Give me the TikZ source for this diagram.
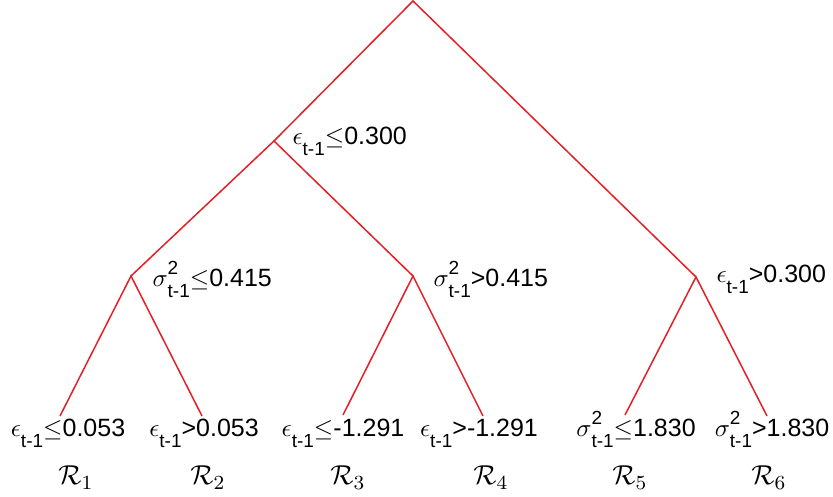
\documentclass[tikz,border=0pt]{standalone}
\usepackage{amsmath,amssymb}
\usepackage{fontspec}
\setmainfont{Liberation Sans}
\usetikzlibrary{positioning}
\definecolor{cBranch}{RGB}{226,32,38}
\newcommand{\lowsub}[1]{\raisebox{-0.44em}{\fontsize{7.6}{9}\selectfont #1}}
\newcommand{\highsup}[1]{\rlap{\raisebox{0.48em}{\fontsize{7.6}{9}\selectfont #1}}}
\newcommand{\epst}{$\epsilon$\lowsub{t-1}}
\newcommand{\sigt}{$\sigma$\highsup{2}\lowsub{t-1}}
\tikzset{
  branch/.style={draw=cBranch, line width=0.6pt},
  cond/.style={font=\fontsize{10}{12}\selectfont, inner sep=0pt, anchor=base},
  region/.style={font=\fontsize{11}{13}\selectfont, inner sep=0pt, anchor=base},
}

\begin{document}
\begin{tikzpicture}[x=0.4pt, y=-0.4pt]
\useasboundingbox (0,0) rectangle (833,497);

% ---- split points ----
\coordinate (root) at (413,1);
\coordinate (eps) at (274,141);
\coordinate (sigL) at (131,276);
\coordinate (sigR) at (413,276);
\coordinate (epsR) at (696,277);

% ---- leaf ends ----
\coordinate (l1) at (60,416);
\coordinate (l2) at (202,416);
\coordinate (l3) at (343,415);
\coordinate (l4) at (483,416);
\coordinate (l5) at (625,415);
\coordinate (l6) at (767,416);

% ---- branches ----
\draw[branch] (eps) -- (root) -- (epsR);
\draw[branch] (sigL) -- (eps) -- (sigR);
\draw[branch] (l1) -- (sigL) -- (l2);
\draw[branch] (l3) -- (sigR) -- (l4);
\draw[branch] (l5) -- (epsR) -- (l6);

% ---- split labels ----
\node[cond, anchor=base west] (cEps) at (292,145) {\epst$\leq$0.300};
\node[cond, anchor=base west] (cSigL) at (152,287) {\sigt$\leq$0.415};
\node[cond, anchor=base west] (cSigR) at (433,287) {\sigt>0.415};
\node[cond, anchor=base west] (cEpsR) at (716,283) {\epst>0.300};

% ---- leaf labels ----
\node[cond] (t1) at (68,437) {\epst$\leq$0.053};
\node[cond] (t2) at (204,437) {\epst>0.053};
\node[cond] (t3) at (343,437) {\epst$\leq$-1.291};
\node[cond] (t4) at (479,437) {\epst>-1.291};
\node[cond] (t5) at (636,437) {\sigt$\leq$1.830};
\node[cond] (t6) at (772,437) {\sigt>1.830};

% ---- regions ----
\node[region] (r1) at (76,485) {$\mathcal{R}_1$};
\node[region] (r2) at (208,485) {$\mathcal{R}_2$};
\node[region] (r3) at (348,485) {$\mathcal{R}_3$};
\node[region] (r4) at (491,485) {$\mathcal{R}_4$};
\node[region] (r5) at (630,485) {$\mathcal{R}_5$};
\node[region] (r6) at (769,485) {$\mathcal{R}_6$};

\end{tikzpicture}
\end{document}
